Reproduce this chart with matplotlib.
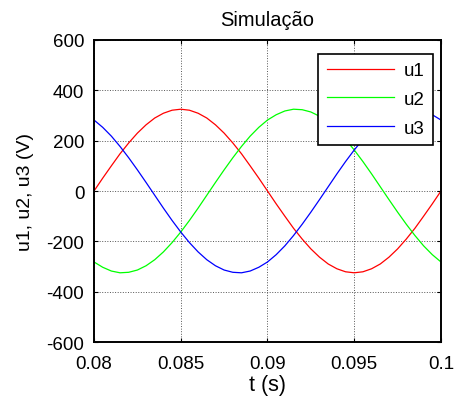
import matplotlib
matplotlib.use("Agg")
import matplotlib.pyplot as plt

plt.rcParams['font.family'] = ['Liberation Sans', 'DejaVu Sans']
plt.rcParams['axes.unicode_minus'] = False

t = [0.08 + 0.0005 * k for k in range(41)]
u1 = [0, 51, 100, 148, 191, 230, 263, 290, 309, 321, 325, 321, 309, 290, 263, 230,
      191, 148, 100, 51, 0, -51, -100, -148, -191, -230, -263, -290, -309, -321, -325,
      -321, -309, -290, -263, -230, -191, -148, -100, -51, 0]
u2 = [-282, -303, -318, -325, -323, -314, -297, -273, -242, -205, -163, -117, -68, -17,
      34, 84, 132, 177, 218, 253, 282, 303, 318, 325, 323, 314, 297, 273, 242, 205, 163,
      117, 68, 17, -34, -84, -132, -177, -218, -253, -282]
u3 = [282, 253, 218, 177, 132, 84, 34, -17, -68, -117, -163, -205, -242, -273, -297,
      -314, -323, -325, -318, -303, -282, -253, -218, -177, -132, -84, -34, 17, 68, 117,
      163, 205, 242, 273, 297, 314, 323, 325, 318, 303, 282]

xticks = [0.08, 0.085, 0.09, 0.095, 0.1]
xlabels = ['0.08', '0.085', '0.09', '0.095', '0.1']
yticks = [-600, -400, -200, 0, 200, 400, 600]

fig = plt.figure(figsize=(4.62, 4.10), dpi=100)
ax = fig.add_axes([0.2035, 0.1634, 0.751, 0.7366])

ax.plot(t, u1, color='#ff0000', lw=0.9, label='u1')
ax.plot(t, u2, color='#00ff00', lw=0.9, label='u2')
ax.plot(t, u3, color='#0000ff', lw=0.9, label='u3')

ax.set_xlim(0.08, 0.1)
ax.set_ylim(-600, 600)
ax.set_xticks(xticks)
ax.set_xticklabels(xlabels)
ax.set_yticks(yticks)
ax.tick_params(direction='in', top=True, right=True, length=3, width=0.8,
               labelsize=13.5)
ax.tick_params(axis='y', pad=7)
ax.tick_params(axis='x', pad=9)
for s in ax.spines.values():
    s.set_linewidth(1.4)
ax.grid(True, color='#555555', linestyle=':', linewidth=0.7)

ax.set_title('Simulação', fontsize=14.5, pad=11)
ax.set_xlabel('t (s)', fontsize=15.5, labelpad=2)
ax.set_ylabel('u1, u2, u3 (V)', fontsize=14, labelpad=9)

leg = ax.legend(loc='upper right', bbox_to_anchor=(0.977, 0.955), borderaxespad=0,
                fancybox=False, edgecolor='black', framealpha=1, fontsize=13.5,
                handlelength=3.6, handletextpad=0.5, labelspacing=0.62, borderpad=0.45)
leg.get_frame().set_linewidth(1.2)

fig.savefig('out.png', dpi=100)
